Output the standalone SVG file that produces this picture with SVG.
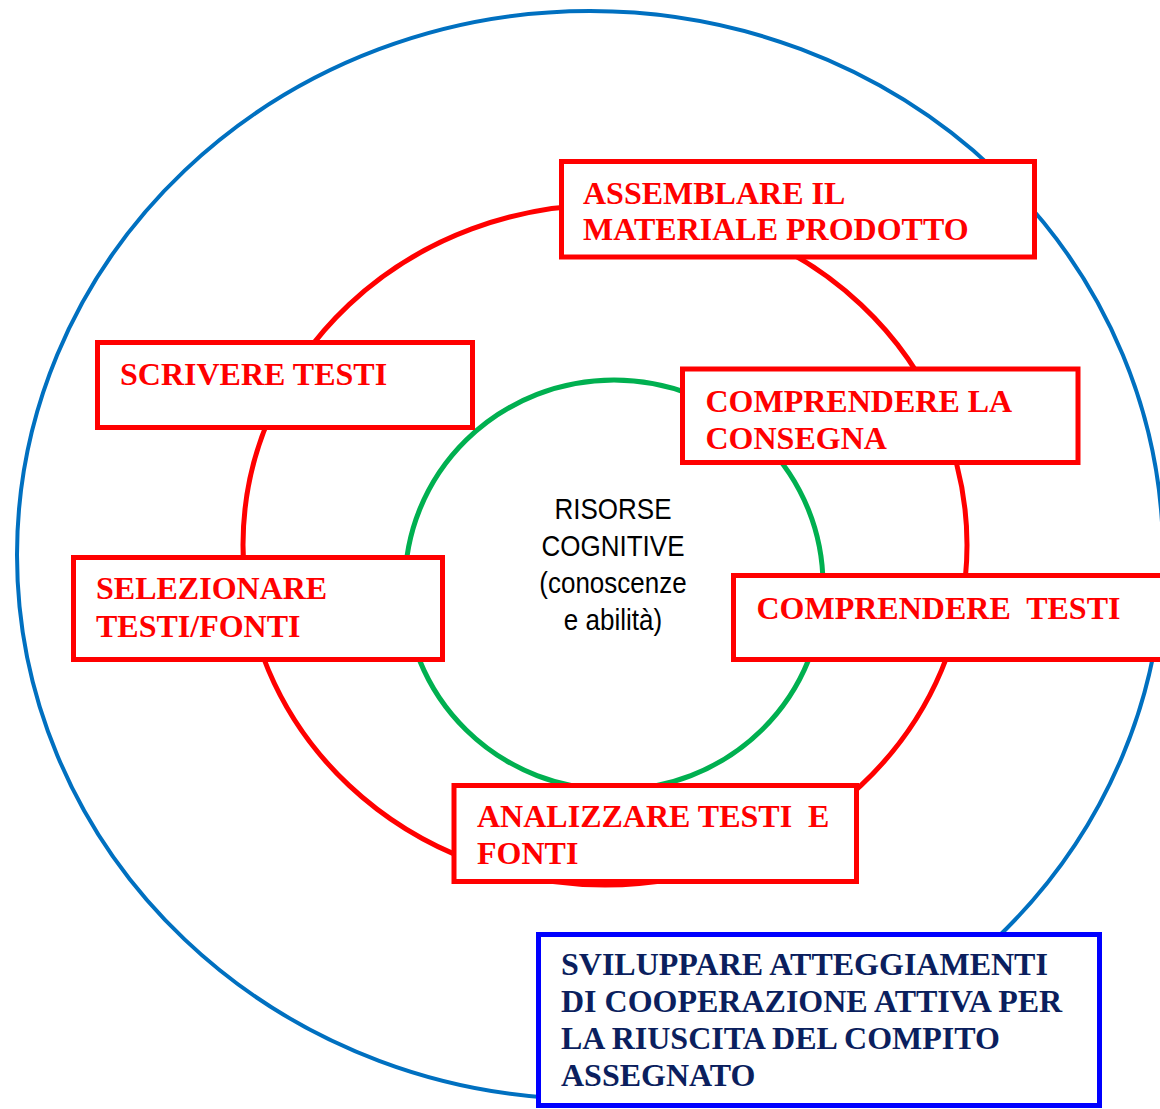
<svg xmlns="http://www.w3.org/2000/svg" width="1160" height="1109" viewBox="0 0 1160 1109">
<style>
.box{fill:#fff;stroke:#ff0000;stroke-width:5}
.rt{font-family:"Liberation Serif","Times New Roman",serif;font-weight:bold;font-size:32px;fill:#ff0000;white-space:pre}
.bt{font-family:"Liberation Serif","Times New Roman",serif;font-weight:bold;font-size:32px;fill:#0b1f5e;white-space:pre}
.ct{font-family:"Liberation Sans",Arial,sans-serif;font-size:26px;fill:#000;text-anchor:middle}
</style>
<rect width="1160" height="1109" fill="#fff"/>
<g id="connectors" fill="none">
<ellipse id="outer-circle" cx="590" cy="555" rx="573" ry="544" stroke="#0070c0" stroke-width="4"/>
<ellipse id="middle-circle" cx="605" cy="545" rx="362" ry="340" stroke="#ff0000" stroke-width="5"/>
<ellipse id="inner-circle" cx="614" cy="585" rx="209" ry="205" stroke="#00b050" stroke-width="5"/>
</g>
<g id="center">
<g transform="translate(613,0) scale(1,1.12)">
<text class="ct" x="0" y="463.4">RISORSE</text>
<text class="ct" x="0" y="496.4">COGNITIVE</text>
<text class="ct" x="0" y="529.5">(conoscenze</text>
<text class="ct" x="0" y="562.5">e abilità)</text>
</g>
</g>
<g id="assemblare">
<rect class="box" x="561.5" y="161.5" width="473" height="95.5"/>
<text class="rt" x="583" y="204">ASSEMBLARE IL</text>
<text class="rt" x="583" y="240">MATERIALE PRODOTTO</text>
</g>
<g id="scrivere">
<rect class="box" x="97.5" y="342.5" width="375" height="85"/>
<text class="rt" x="120" y="385">SCRIVERE TESTI</text>
</g>
<g id="comprendere-consegna">
<rect class="box" x="682.5" y="369" width="395.5" height="93.5"/>
<text class="rt" x="705.5" y="412">COMPRENDERE LA</text>
<text class="rt" x="705.5" y="449">CONSEGNA</text>
</g>
<g id="selezionare">
<rect class="box" x="73.5" y="557.5" width="369" height="102"/>
<text class="rt" x="96" y="599">SELEZIONARE</text>
<text class="rt" x="96" y="637">TESTI/FONTI</text>
</g>
<g id="comprendere-testi">
<rect class="box" x="733.5" y="575.5" width="500" height="84"/>
<text class="rt" x="756.5" y="619">COMPRENDERE  TESTI</text>
</g>
<g id="analizzare">
<rect class="box" x="454" y="785.5" width="402.5" height="96"/>
<text class="rt" x="477" y="827">ANALIZZARE TESTI  E</text>
<text class="rt" x="477" y="864">FONTI</text>
</g>
<g id="sviluppare">
<rect x="538.5" y="934.5" width="561" height="171" fill="#fff" stroke="#0000ff" stroke-width="5"/>
<text class="bt" x="561" y="975">SVILUPPARE ATTEGGIAMENTI</text>
<text class="bt" x="561" y="1012">DI COOPERAZIONE ATTIVA PER</text>
<text class="bt" x="561" y="1049">LA RIUSCITA DEL COMPITO</text>
<text class="bt" x="561" y="1086">ASSEGNATO</text>
</g>
</svg>
